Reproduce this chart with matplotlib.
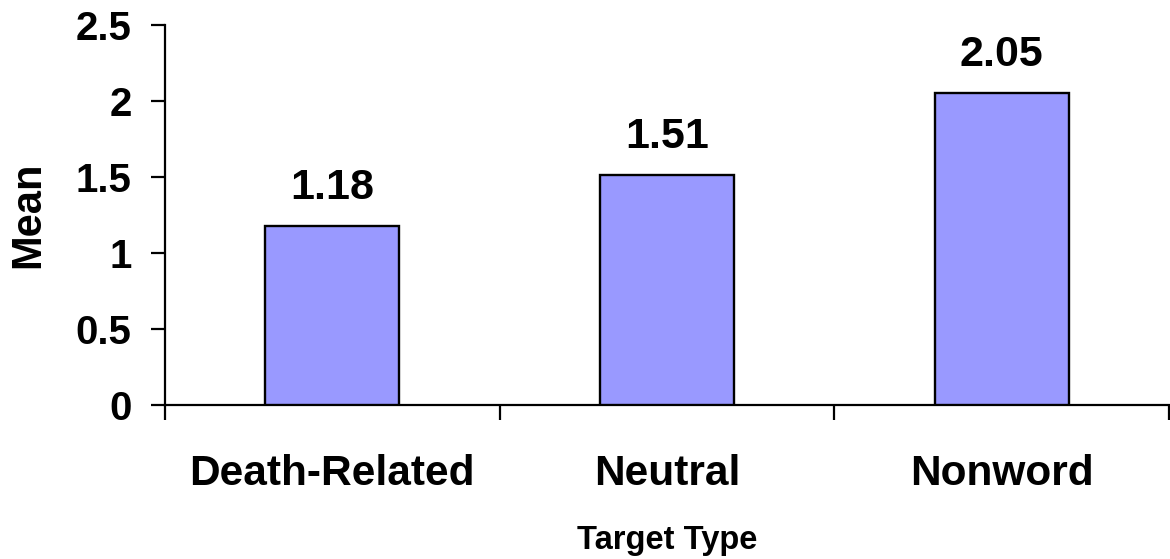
import matplotlib
matplotlib.use("Agg")
import matplotlib.pyplot as plt
import numpy as np

categories = ["Death-Related", "Neutral", "Nonword"]
means = [1.18, 1.51, 2.05]
y_ticks = [0, 0.5, 1, 1.5, 2, 2.5]
y_tick_labels = ["0", "0.5", "1", "1.5", "2", "2.5"]

plt.rcParams["font.family"] = ["Liberation Sans", "DejaVu Sans"]
plt.rcParams["font.weight"] = "bold"

fig = plt.figure(figsize=(11.7, 5.59), dpi=100)
ax = fig.add_axes([165 / 1170, 154 / 559, 1004 / 1170, 380 / 559])

x = np.arange(len(categories))
bars = ax.bar(x, means, width=0.4, color="#9999FF", edgecolor="black",
              linewidth=1.7, zorder=3)

for xi, v in zip(x, means):
    ax.annotate(f"{v:.2f}", (xi, v), xytext=(0, 13), textcoords="offset points",
                ha="center", va="bottom", fontsize=31, fontweight="bold")

ax.set_xlim(-0.5, len(categories) - 0.5)
ax.set_ylim(0, 2.5)
ax.set_yticks(y_ticks)
ax.set_yticklabels(y_tick_labels, fontsize=29, fontweight="bold")
ax.set_xticks(x)
ax.set_xticklabels(categories, fontsize=30.5, fontweight="bold")
ax.set_xticks(np.arange(len(categories) + 1) - 0.5, minor=True)

ax.tick_params(axis="y", direction="out", length=10, width=1.6, pad=14)
ax.tick_params(axis="x", which="major", length=0, pad=35.5)
ax.tick_params(axis="x", which="minor", direction="out", length=11, width=1.6)

for side in ["top", "right"]:
    ax.spines[side].set_visible(False)
for side in ["left", "bottom"]:
    ax.spines[side].set_linewidth(1.6)

ax.set_ylabel("Mean", fontsize=30, fontweight="bold", labelpad=20)
ax.set_xlabel("Target Type", fontsize=23.5, fontweight="bold", labelpad=22)

fig.savefig("out.png", dpi=100, facecolor="white")
